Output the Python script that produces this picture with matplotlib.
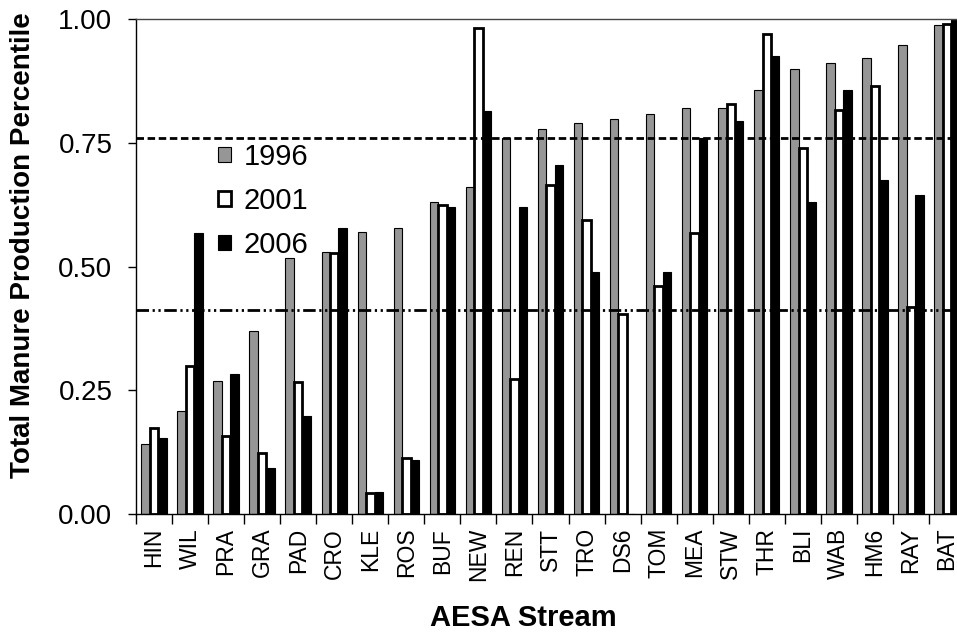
import numpy as np
import matplotlib
matplotlib.use("Agg")
import matplotlib.pyplot as plt
from matplotlib.patches import Patch

plt.rcParams["font.family"] = ["Liberation Sans", "DejaVu Sans"]

streams = ["HIN", "WIL", "PRA", "GRA", "PAD", "CRO", "KLE", "ROS", "BUF", "NEW",
           "REN", "STT", "TRO", "DS6", "TOM", "MEA", "STW", "THR", "BLI", "WAB",
           "HM6", "RAY", "BAT"]
p1996 = [0.142, 0.209, 0.269, 0.369, 0.518, 0.530, 0.571, 0.578, 0.630, 0.661,
         0.761, 0.779, 0.791, 0.799, 0.809, 0.820, 0.820, 0.858, 0.899, 0.911,
         0.921, 0.947, 0.989]
p2001 = [0.173, 0.300, 0.158, 0.124, 0.266, 0.528, 0.042, 0.113, 0.624, 0.982,
         0.273, 0.665, 0.594, 0.404, 0.460, 0.568, 0.829, 0.971, 0.740, 0.817,
         0.866, 0.419, 0.990]
p2006 = [0.153, 0.568, 0.283, 0.093, 0.198, 0.578, 0.044, 0.109, 0.620, 0.815,
         0.620, 0.706, 0.489, 0.0, 0.489, 0.760, 0.795, 0.925, 0.630, 0.858,
         0.676, 0.645, 1.000]
upper_ref = 0.761
lower_ref = 0.412


def plot_chart():
    fig = plt.figure(figsize=(9.57, 6.34), dpi=100)
    ax = fig.add_axes([0.1421, 0.1893, 0.8663, 0.7803])

    x = np.arange(len(streams))
    w = 0.235
    ax.bar(x - w, p1996, w, color="#969696", edgecolor="black", linewidth=0.8, zorder=2)
    ax.bar(x, p2001, w, color="white", edgecolor="black", linewidth=2.0, zorder=2)
    ax.bar(x + w, p2006, w, color="black", edgecolor="black", linewidth=0.8, zorder=2)

    # reference percentile lines
    ax.axhline(upper_ref, color="black", linewidth=2.0, dashes=(2.7, 1.3), zorder=3)
    ax.axhline(lower_ref, color="black", linewidth=2.0,
               dashes=(4.5, 1.3, 0.8, 1.3, 0.8, 1.3), zorder=3)

    ax.set_xlim(-0.5, len(streams) - 0.5)
    ax.set_ylim(0, 1.0)
    ax.set_yticks([0, 0.25, 0.5, 0.75, 1.0])
    ax.set_yticklabels(["%.2f" % v for v in [0, 0.25, 0.5, 0.75, 1.0]], fontsize=20)
    ax.tick_params(axis="y", direction="out", length=6, width=1, pad=11)

    ax.set_xticks(x)
    ax.set_xticklabels(streams, rotation=90, fontsize=16.5)
    ax.tick_params(axis="x", which="major", length=0, pad=10)
    ax.set_xticks(np.arange(len(streams) + 1) - 0.5, minor=True)
    ax.tick_params(axis="x", which="minor", direction="out", length=7, width=1)

    ax.spines["top"].set_color("#444444")
    ax.spines["top"].set_linewidth(1.0)
    ax.spines["right"].set_visible(False)
    ax.spines["left"].set_linewidth(1.0)
    ax.spines["bottom"].set_linewidth(1.0)

    handles = [Patch(facecolor="#969696", edgecolor="black", linewidth=0.8),
               Patch(facecolor="white", edgecolor="black", linewidth=2.0),
               Patch(facecolor="black", edgecolor="black", linewidth=0.8)]
    fig.legend(handles, ["1996", "2001", "2006"], loc="upper left",
               bbox_to_anchor=(0.228, 0.775), frameon=False, fontsize=21,
               handlelength=0.43, handleheight=0.43, handletextpad=0.45,
               labelspacing=0.55, borderpad=0, borderaxespad=0)

    fig.text(23 / 957, 1 - 245 / 634, "Total Manure Production Percentile",
             rotation=90, ha="center", va="center", fontsize=20, fontweight="bold")
    fig.text(523 / 957, 1 - 618 / 634, "AESA Stream", ha="center", va="center",
             fontsize=21, fontweight="bold")

    fig.savefig("out.png", dpi=100)


if __name__ == "__main__":
    plot_chart()
